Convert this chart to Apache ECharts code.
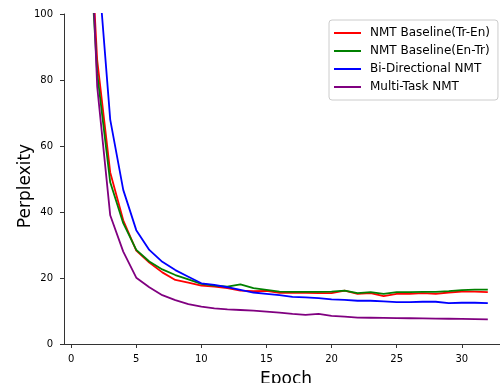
<!DOCTYPE html>
<html>
<head>
<meta charset="utf-8">
<script src="https://cdn.jsdelivr.net/npm/echarts@6/dist/echarts.min.js"></script>
<style>
html,body{margin:0;padding:0;background:#fff;}
#chart{width:500px;height:383px;}
</style>
</head>
<body>
<div id="chart"></div>
<script>
var epochs = [1,2,3,4,5,6,7,8,9,10,11,12,13,14,15,16,17,18,19,20,21,22,23,24,25,26,27,28,29,30,31,32];
var xTicks = [0,5,10,15,20,25,30];
var yTicks = [0,20,40,60,80,100];
var seriesNames = ['NMT Baseline(Tr-En)','NMT Baseline(En-Tr)','Bi-Directional NMT','Multi-Task NMT'];
var baselineTrEn = [160,86,52,37.5,28.3,24.7,21.7,19.4,18.6,17.7,17.4,16.9,16.2,16.0,16.1,15.5,15.5,15.5,15.4,15.4,16.2,15.2,15.4,14.5,15.2,15.2,15.4,15.2,15.6,15.9,15.9,15.7];
var baselineEnTr = [150,82,49,36.6,28.5,25.0,22.6,20.9,19.6,18.2,17.7,17.4,18.1,16.9,16.4,15.9,15.8,15.8,15.8,15.9,16.2,15.4,15.7,15.2,15.7,15.7,15.8,15.8,16.0,16.3,16.5,16.5];
var biDirectional = [200,118,68,46.7,34.5,28.5,24.9,22.4,20.4,18.4,17.9,17.2,16.4,15.6,15.2,14.8,14.3,14.1,13.9,13.5,13.4,13.1,13.1,12.9,12.7,12.7,12.8,12.8,12.4,12.5,12.5,12.4];
var multiTask = [175,78,39,28,20.1,17.2,14.8,13.3,12.1,11.3,10.8,10.5,10.3,10.1,9.8,9.5,9.1,8.8,9.1,8.5,8.3,8.0,7.95,7.9,7.85,7.8,7.75,7.7,7.65,7.6,7.55,7.45];
var colors = ['#ff0000','#008000','#0000ff','#800080'];
var allValues = [baselineTrEn, baselineEnTr, biDirectional, multiTask];

function pairs(vals){ return epochs.map(function(e,i){ return [e, vals[i]]; }); }

var font = 'DejaVu Sans';
var axisColor = '#333';
var chart = echarts.init(document.getElementById('chart'));
chart.setOption({
  animation: false,
  backgroundColor: '#fff',
  grid: { left: 64, top: 14, width: 444, bottom: 39, containLabel: false, outerBoundsMode: 'none' },
  legend: {
    orient: 'vertical',
    left: 329, top: 20,
    padding: [6, 8, 6, 5],
    itemGap: 4,
    itemWidth: 27, itemHeight: 2,
    icon: 'rect',
    backgroundColor: 'rgba(255,255,255,0.85)',
    borderColor: '#cccccc', borderWidth: 1, borderRadius: 3,
    textStyle: { fontFamily: font, fontSize: 12, color: '#000', lineHeight: 14, padding: [0,0,0,4] },
    data: seriesNames
  },
  xAxis: {
    type: 'value', min: -0.55, max: 33.55,
    name: 'Epoch', nameLocation: 'middle', nameGap: 27,
    nameTextStyle: { fontFamily: font, fontSize: 17, color: '#000' },
    axisLine: { show: true, onZero: false, lineStyle: { color: axisColor, width: 1 } },
    axisTick: { show: true, length: 4, customValues: xTicks, lineStyle: { color: axisColor } },
    axisLabel: { customValues: xTicks, fontFamily: font, fontSize: 10, color: '#000', margin: 10 },
    splitLine: { show: false }
  },
  yAxis: {
    type: 'value', min: 0, max: 100, interval: 20,
    name: 'Perplexity', nameLocation: 'middle', nameGap: 30, nameMoveOverlap: false,
    nameTextStyle: { fontFamily: font, fontSize: 17, color: '#000', padding: [0, 14, 0, 0] },
    axisLine: { show: true, onZero: false, lineStyle: { color: axisColor, width: 1 } },
    axisTick: { show: true, length: 4, lineStyle: { color: axisColor } },
    axisLabel: { fontFamily: font, fontSize: 10, color: '#000', margin: 11 },
    splitLine: { show: false }
  },
  series: seriesNames.map(function(n, k){
    return {
      name: n, type: 'line', data: pairs(allValues[k]),
      showSymbol: false, symbol: 'none', clip: true,
      lineStyle: { color: colors[k], width: 1.8 },
      itemStyle: { color: colors[k] },
      z: 2 + k
    };
  })
});
</script>
</body>
</html>
